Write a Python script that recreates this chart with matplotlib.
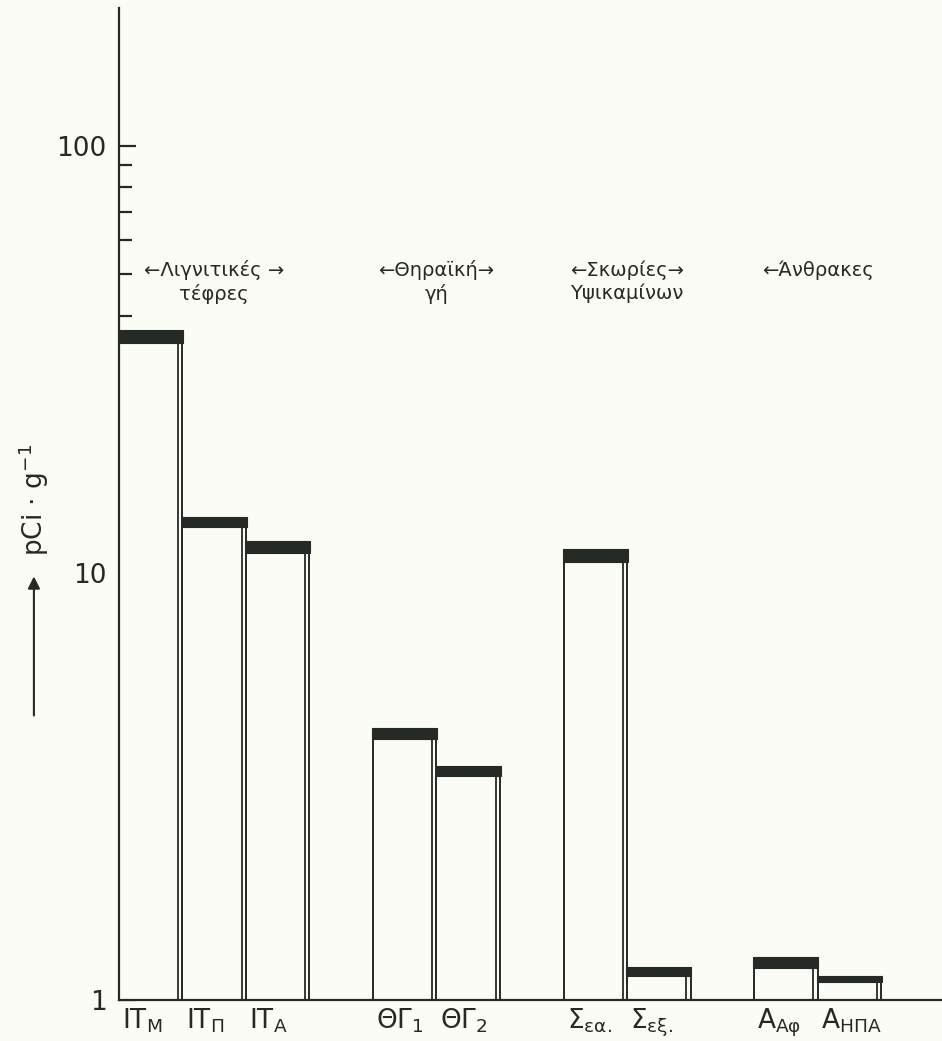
import matplotlib.pyplot as plt
import matplotlib.transforms as mtransforms
from matplotlib.ticker import FixedLocator, NullFormatter

# activity per sample, pCi/g : lower value = top of white bar, upper value = top of black band
samples = [r'$\mathregular{IT_M}$', r'$\mathregular{IT_Π}$', r'$\mathregular{IT_A}$',
           r'$\mathregular{ΘΓ_1}$', r'$\mathregular{ΘΓ_2}$',
           r'$\mathregular{Σ_{εα.}}$', r'$\mathregular{Σ_{εξ.}}$',
           r'$\mathregular{A_{Aφ}}$', r'$\mathregular{A_{ΗΠΑ}}$']
low = [34.6, 12.8, 11.1, 4.08, 3.35, 10.6, 1.14, 1.19, 1.10]
high = [37.1, 13.5, 11.9, 4.33, 3.53, 11.4, 1.195, 1.26, 1.14]
group_sizes = [3, 2, 2, 2]
group_line1 = ['←Λιγνιτικές →', '←Θηραϊκή→', '←Σκωρίες→', '←Άνθρακες']
group_line2 = ['τέφρες', 'γή', 'Υψικαμίνων', '']

ink = '#262a26'
paper = '#fcfcf7'

plt.rcParams['font.family'] = ['DejaVu Sans']

fig = plt.figure(figsize=(9.42, 10.41), dpi=100, facecolor=paper)
ax = fig.add_axes([0.1263, 0.0394, 0.8737, 0.9529])
ax.set_facecolor(paper)

# bar positions: adjacent bars inside a group, one empty slot between groups
pos = []
centers = []
start = 0
for n in group_sizes:
    members = [start + i + 0.5 for i in range(n)]
    pos += members
    centers.append(sum(members) / n)
    start += n + 1

for x, lo, hi in zip(pos, low, high):
    ax.bar(x, lo - 1, bottom=1, width=1.0, color=paper, edgecolor=ink, linewidth=1.4, zorder=2)
    ax.vlines(x + 0.5 - 0.065, 1, lo, color=ink, linewidth=1.3, zorder=3)
    ax.bar(x, hi - lo, bottom=lo, width=1.02, color=ink, edgecolor=ink, linewidth=0.8, zorder=4)

ax.set_yscale('log')
ax.set_ylim(1, 210)
ax.set_xlim(0, 12.96)

for s in ['top', 'right']:
    ax.spines[s].set_visible(False)
for s in ['left', 'bottom']:
    ax.spines[s].set_linewidth(1.6)
    ax.spines[s].set_color(ink)

ax.yaxis.set_major_locator(FixedLocator([1, 10, 100]))
ax.set_yticklabels(['1', '10', '100'])
ax.yaxis.set_minor_locator(FixedLocator([m * d for d in (1, 10) for m in range(2, 10)]))
ax.yaxis.set_minor_formatter(NullFormatter())
ax.tick_params(axis='y', which='major', direction='in', length=12, width=1.6,
               color=ink, labelsize=19, labelcolor=ink, pad=9)
ax.tick_params(axis='y', which='minor', direction='in', length=9, width=1.6, color=ink)

ax.set_xticks([x - 0.45 for x in pos])
ax.set_xticklabels(samples, ha='left')
ax.tick_params(axis='x', length=0, labelsize=19, labelcolor=ink, pad=5)

trans = mtransforms.blended_transform_factory(ax.transData, ax.transAxes)
for c, t1, t2 in zip(centers, group_line1, group_line2):
    ax.text(c, 0.736, t1, transform=trans, ha='center', va='center', fontsize=14, color=ink)
    if t2:
        ax.text(c, 0.712, t2, transform=trans, ha='center', va='center', fontsize=14, color=ink)

# y label with arrow pointing upward
fig.text(0.036, 0.52, 'pCi · g$^{-1}$', rotation=90, ha='center', va='center', fontsize=19, color=ink)
ax.annotate('', xy=(0.036, 0.449), xytext=(0.036, 0.31), xycoords='figure fraction',
            arrowprops=dict(arrowstyle='-|>', lw=1.5, color=ink, mutation_scale=18))

plt.savefig('out.png', dpi=100, facecolor=paper)
plt.close()
